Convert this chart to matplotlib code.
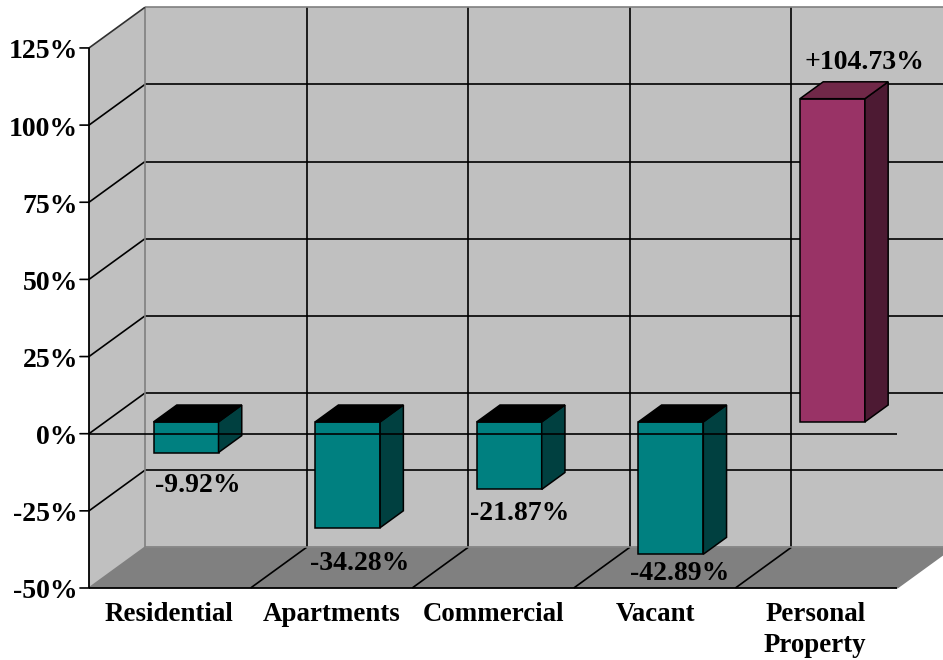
import matplotlib
matplotlib.use("Agg")
import matplotlib.pyplot as plt
from matplotlib.patches import Polygon

categories = ["Residential", "Apartments", "Commercial", "Vacant", "Personal\nProperty"]
values = [-9.92, -34.28, -21.87, -42.89, 104.73]
value_labels = ["-9.92%", "-34.28%", "-21.87%", "-42.89%", "+104.73%"]
y_ticks = [-50, -25, 0, 25, 50, 75, 100, 125]
y_tick_labels = ["-50%", "-25%", "0%", "25%", "50%", "75%", "100%", "125%"]

W, H = 943, 660
X0, CAT_W = 89.0, 161.6
Y0, PX_PER_PCT = 433.7, 3.086
DX = 56.0 / CAT_W
DY = 40.7 / PX_PER_PCT
N = len(categories)
YMIN, YMAX = y_ticks[0], y_ticks[-1]

plt.rcParams["font.family"] = ["Liberation Serif", "DejaVu Serif"]
plt.rcParams["font.weight"] = "bold"
FS = 20.0
FS_CAT = 19.4
WALL, FLOOR, EDGE = "#C0C0C0", "#808080", "#808080"

fig = plt.figure(figsize=(W / 100, H / 100), dpi=100, facecolor="white")
ax = fig.add_axes([0, 0, 1, 1])
ax.set_xlim((0 - X0) / CAT_W, (W - X0) / CAT_W)
ax.set_ylim((Y0 - H) / PX_PER_PCT, Y0 / PX_PER_PCT)
ax.axis("off")


def P(x, y, d=0.0):
    return (x + d * DX, y + d * DY)


def poly(pts, fc, ec="none", lw=0.0, z=1):
    ax.add_patch(Polygon(pts, closed=True, facecolor=fc, edgecolor=ec,
                         linewidth=lw, zorder=z, joinstyle="miter"))


def seg(a, b, color="black", lw=1.2, z=2):
    ax.plot([a[0], b[0]], [a[1], b[1]], color=color, lw=lw, zorder=z,
            solid_capstyle="butt")


# Walls and floor
poly([P(0, YMIN, 1), P(N, YMIN, 1), P(N, YMAX, 1), P(0, YMAX, 1)], WALL)
poly([P(0, YMIN, 0), P(0, YMIN, 1), P(0, YMAX, 1), P(0, YMAX, 0)], WALL)
poly([P(0, YMIN, 0), P(N, YMIN, 0), P(N, YMIN, 1), P(0, YMIN, 1)], FLOOR)

# Gridlines
for t in y_ticks[1:-1]:
    seg(P(0, t, 1), P(N, t, 1))
    seg(P(0, t, 0), P(0, t, 1))
for i in range(1, N):
    seg(P(i, YMIN, 1), P(i, YMAX, 1))
    seg(P(i, YMIN, 0), P(i, YMIN, 1))

# Wall edges
seg(P(0, YMIN, 1), P(0, YMAX, 1), EDGE)
seg(P(0, YMAX, 1), P(N, YMAX, 1), EDGE)
seg(P(0, YMIN, 1), P(N, YMIN, 1), EDGE)
seg(P(0, YMIN, 0), P(0, YMIN, 1), EDGE)
seg(P(N, YMIN, 0), P(N, YMIN, 1), EDGE)
seg(P(0, YMAX, 0), P(0, YMAX, 1), "#303030")

# Bars
D1, D2 = 0.29, 0.705
BAR_W = 0.402
for i, v in enumerate(values):
    left = i + (1 - BAR_W) / 2
    right = left + BAR_W
    if v >= 0:
        front, side, top = "#993366", "#4D1A33", "#702848"
    else:
        front, side, top = "#008080", "#004040", "#000000"
    y_top = max(v, 0)
    y_bot = min(v, 0)
    kw = dict(ec="black", lw=1.1, z=4)
    poly([P(left, y_bot, D1), P(right, y_bot, D1), P(right, y_top, D1), P(left, y_top, D1)], front, **kw)
    poly([P(right, y_bot, D1), P(right, y_bot, D2), P(right, y_top, D2), P(right, y_top, D1)], side, **kw)
    poly([P(left, y_top, D1), P(right, y_top, D1), P(right, y_top, D2), P(left, y_top, D2)], top, **kw)

# Front axes lines drawn over the bars
seg(P(0, 0, 0), P(N, 0, 0), z=5)
seg(P(0, YMIN, 0), P(N, YMIN, 0), z=5, lw=1.3)
seg(P(0, YMIN, 0), P(0, YMAX, 0), z=5, lw=1.3)

# Value axis ticks and labels
for t, lab in zip(y_ticks, y_tick_labels):
    ax.annotate("", xy=(0, t), xytext=(-6.5, 0), textcoords="offset points",
                arrowprops=dict(arrowstyle="-", color="black", lw=1.2,
                                shrinkA=0, shrinkB=0), zorder=5)
    ax.annotate(lab, xy=(0, t), xytext=(-8.0, -0.7), textcoords="offset points",
                ha="right", va="center_baseline", fontsize=FS, color="black",
                fontweight="bold", zorder=6)

# Category labels (small per-label px shifts)
cat_shift = [0, 1, 2, 2, 0]
for i, c in enumerate(categories):
    ax.annotate(c, xy=(i + 0.5, YMIN), xytext=((cat_shift[i] - 1) * 0.72, -10.0),
                textcoords="offset points",
                ha="center", va="top", fontsize=FS_CAT, fontweight="bold",
                color="black", linespacing=1.34, zorder=6)

# Data labels (px offsets from the bar end's front centre)
label_offsets = [(12, 30), (12, 33), (10, 21), (9, 16), (32, -39)]
for i, (v, lab, (ox, oy)) in enumerate(zip(values, value_labels, label_offsets)):
    anchor = P(i + 0.5, v, D1)
    ax.annotate(lab, xy=anchor, xytext=(ox * 0.72, -oy * 0.72), textcoords="offset points",
                ha="center", va="center_baseline", fontsize=FS, fontweight="bold",
                color="black", zorder=7)

fig.savefig("out.png", dpi=100, facecolor="white")
